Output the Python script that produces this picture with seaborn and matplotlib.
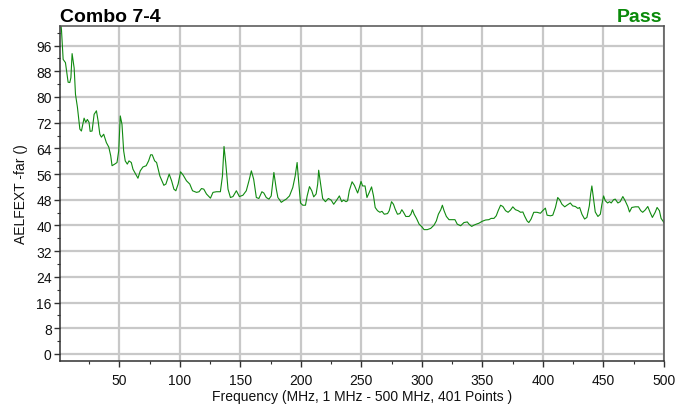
import numpy as np
import pandas as pd
import matplotlib
matplotlib.use("Agg")
import matplotlib.pyplot as plt
from matplotlib.ticker import MultipleLocator
import seaborn as sns

title = "Combo 7-4"
status = "Pass"
x_label = "Frequency (MHz, 1 MHz - 500 MHz, 401 Points )"
y_label = "AELFEXT -far ()"

freq = [1, 2.2, 3.6, 5.5, 7.7, 9.1, 10.0, 11.0, 12.7, 13.8, 15.4, 17.4, 18.7, 20.9, 22.3, 23.6,
        25.0, 25.9, 27.5, 29.2, 31.1, 32.5, 33.9, 35.2, 37.1, 39.3, 41.3, 42.9, 44.0, 46.2, 48.1,
        49.5, 50.8, 52.2, 53.6, 54.9, 56.6, 58.0, 59.9, 61.3, 63.5, 65.4, 67.3, 69.5, 72.2, 74.2,
        75.9, 77.2, 79.2, 80.8, 83.5, 86.8, 88.5, 91.2, 93.2, 95.1, 96.7, 98.6, 100.6, 102.7,
        105.5, 108.2, 110.5, 113.8, 115.9, 117.9, 119.8, 122.0, 125.3, 127.4, 130.2, 133.5,
        135.2, 136.5, 137.9, 139.8, 141.8, 143.9, 146.7, 149.2, 152.1, 154.9, 157.1, 159.1, 161,
        163.2, 165.3, 167.8, 169.4, 171.4, 173.6, 175.5, 177.7, 179.7, 181, 182.4, 183.8, 185.7,
        187.9, 190.6, 193.3, 195.3, 196.9, 198, 199.7, 201.6, 203.8, 205.2, 207.1, 209, 210.6,
        212.6, 213.9, 214.7, 216.1, 218, 220.3, 222.7, 225, 227.1, 229.6, 231.8, 233.7, 235.3,
        237.3, 238.6, 240, 242.3, 244.2, 246.9, 248.3, 249.7, 251, 253, 254.6, 256.5, 258.4, 260,
        261.4, 263.3, 265.3, 267, 268.9, 271.6, 273, 274.9, 276.5, 277.9, 279.8, 281.8, 283.4,
        284.8, 286.7, 289.4, 290.9, 292.2, 293.6, 295.5, 297.7, 299.9, 301.8, 304.5, 307.3, 310,
        311.9, 313.6, 315.6, 316.9, 318.3, 320.2, 322.4, 324.6, 327.3, 329.2, 332, 334.7, 337.5,
        338.9, 341.1, 343, 344.9, 347.1, 349.8, 352.6, 355.3, 357.2, 359.5, 361.4, 363, 365,
        366.9, 369.1, 371.2, 373.2, 375.1, 377.3, 379.5, 381.5, 383.4, 385, 386.9, 388.3, 390.2,
        392.4, 395.1, 397.9, 399.8, 402, 403.4, 406.2, 408.1, 410.3, 412.2, 413.8, 415.7, 418,
        419.8, 422.6, 424.5, 426.8, 428.9, 430.3, 432.2, 434.4, 436.3, 438.3, 439.4, 440.4,
        441.8, 443.2, 445.4, 447.4, 448.7, 450.1, 451.5, 453.4, 455, 456.4, 458.3, 459.7, 461.9,
        463.8, 466, 467.9, 470.1, 471.5, 473.4, 476.2, 478.9, 480.8, 482.4, 484.4, 486.6, 488.5,
        490.4, 492.7, 494.3, 496.2, 497.6, 500]

aelfext = [105, 101, 91.7, 90.7, 84.6, 84.5, 86, 93.5, 89, 80.8, 76.8, 70, 69.4, 73.4, 72.1, 73,
           72.1, 69.3, 69.4, 74.6, 75.7, 72.5, 68.4, 67.5, 68.4, 65.8, 64.4, 61.7, 58.6, 59.1,
           59.6, 63.2, 74.1, 71.5, 63.2, 60.1, 59.1, 60.1, 59.6, 57.5, 56, 54.7, 57, 58.2, 58.6,
           60.1, 62, 62, 60.1, 59.6, 55.4, 52.5, 52.9, 56, 53.9, 51.3, 50.8, 52.9, 56.7, 55.7,
           53.9, 52.9, 50.8, 50.3, 50.5, 51.5, 51.3, 49.8, 48.5, 50.3, 50.5, 50.5,
           55.4, 64.6, 59.6, 51.3, 48.7, 49.0, 50.8, 49.0, 49.4, 50.8, 53.9, 57, 54.4,
           48.7, 48.4, 50.5, 50.1, 48.7, 48.2, 49.2, 56.5, 51.3, 48.7, 48, 47.2, 47.7,
           48.2, 49.2, 51.8, 55.4, 59.6, 54.4, 47, 46.3, 46.3, 49.2, 52.1, 50.8, 48.9,
           49.8, 52.9, 57.2, 53.4, 48.4, 47.4, 48.4, 47.9, 46.6, 47.9, 49.2, 47.4, 47.9,
           47.4, 47.7, 50.8, 53.6, 52.5, 50.1, 51.8, 53.7, 52.3, 52.3, 48.7, 50.3, 52, 49.2,
           45.6, 44.6, 44.1, 44.4, 43.5, 43.7, 44.6, 47.4, 46.6, 45.1, 43.5, 43.7, 44.9,
           44.1, 42.8, 42.8, 43.5, 44.9, 43.5, 42.2, 40.4, 39.6, 38.7, 38.7, 39.1, 40.1,
           41.4, 43.5, 44.9, 46.3, 44.6, 42.8, 41.8, 41.8, 41.8, 40.4, 39.9, 40.9, 41.1,
           40.4, 39.7, 40.1, 40.4, 40.7, 41.3, 41.7, 41.8, 42.2, 42.2, 43, 44.6, 46.3,
           45.9, 44.6, 44.1, 44.8, 45.8, 44.9, 44.6, 44.1, 44.2, 42.8, 41.4, 40.9, 42,
           44.1, 44.1, 43.8, 44.6, 45.4, 43.2, 43, 43.2, 45.6, 48.7, 48, 46.6, 45.8,
           46.3, 47, 46.1, 45.9, 45.3, 45.6, 43.5, 42, 42.5, 46.1, 49.8, 52.3,
           48.2, 44.2, 42.8, 43.5, 46.6, 49.2, 47.7, 47, 47.4, 47, 48, 48.2, 47,
           47.4, 49, 47.7, 45.9, 44.2, 45.6, 45.8, 45.8, 44.6, 44.1, 44.8, 45.9, 44.1,
           42.5, 44.1, 45.6, 44.6, 42.2, 40.9]

x_ticks = [50, 100, 150, 200, 250, 300, 350, 400, 450, 500]
y_ticks = [0, 8, 16, 24, 32, 40, 48, 56, 64, 72, 80, 88, 96]

sns.set_theme(style="white")
plt.rcParams['font.family'] = ['Liberation Sans', 'DejaVu Sans']

df = pd.DataFrame({"freq": freq, "val": aelfext})

fig = plt.figure(figsize=(6.93, 4.10), dpi=100)
ax = fig.add_axes([60/693, 1 - 362/410, (664 - 60)/693, (362 - 27)/410])

sns.lineplot(data=df, x="freq", y="val", ax=ax, color="#108a10", linewidth=0.8,
             sort=False, estimator=None)

ax.set_xlim(1, 500)
ax.set_ylim(-2.2, 102.1)
ax.set_xticks(x_ticks)
ax.set_yticks(y_ticks)
ax.xaxis.set_minor_locator(MultipleLocator(25))
ax.yaxis.set_minor_locator(MultipleLocator(4))
ax.grid(True, which="major", color="#c8c8c8", linewidth=1.6)
ax.set_axisbelow(True)

for side in ["left", "bottom", "right", "top"]:
    ax.spines[side].set_visible(True)
    ax.spines[side].set_linewidth(1.1)
ax.spines["left"].set_color("#303030")
ax.spines["bottom"].set_color("#303030")
ax.spines["right"].set_color("#505050")
ax.spines["top"].set_color("#505050")

ax.tick_params(axis="both", which="major", direction="out", length=4, width=1,
               color="#303030", labelsize=10, labelcolor="#111111", pad=2,
               bottom=True, left=True)
ax.tick_params(axis="both", which="minor", direction="out", length=2.5, width=0.8,
               color="#303030", bottom=True, left=True)
ax.tick_params(axis="x", which="major", pad=5)

ax.set_xlabel(x_label, fontsize=10, color="#111111", labelpad=1)
ax.set_ylabel(y_label, fontsize=10, color="#111111", labelpad=6)

fig.text(60/693, 1 - 21.5/410, title, fontsize=14, fontweight="bold", color="black",
         ha="left", va="baseline")
fig.text(662/693, 1 - 21.5/410, status, fontsize=14, fontweight="bold", color="#0a8a0a",
         ha="right", va="baseline")

fig.savefig("out.png", dpi=100)
